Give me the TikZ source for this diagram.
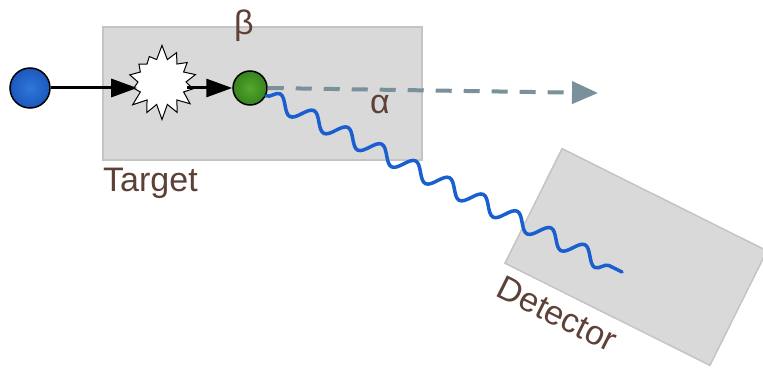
\documentclass[tikz,border=0pt]{standalone}
\usepackage{fontspec}
\setmainfont{Liberation Sans}
\usetikzlibrary{shapes.symbols,arrows.meta,decorations.pathmorphing}

\definecolor{boxfill}{HTML}{D9D9D9}
\definecolor{boxline}{HTML}{C4C4C4}
\definecolor{labelbrown}{HTML}{5D4037}
\definecolor{dashgray}{HTML}{7A919C}
\definecolor{wave}{HTML}{1A5FD0}
\definecolor{blueinner}{HTML}{2F77DA}
\definecolor{blueouter}{HTML}{1C58BC}
\definecolor{greeninner}{HTML}{52A82E}
\definecolor{greenouter}{HTML}{37821D}

\tikzset{
  panel/.style={draw=boxline, fill=boxfill, line width=1.5pt, inner sep=0pt},
  caption/.style={text=labelbrown, font=\fontsize{34}{40}\selectfont, inner sep=0pt},
  particle/.style={circle, draw=black, line width=1.5pt, inner sep=0pt},
  beam/.style={line width=3pt, -{Triangle[length=26pt,width=18pt]}},
}

\begin{document}
\begin{tikzpicture}[x=1pt,y=-1pt]
  \useasboundingbox (0,0) rectangle (763,374);

  % target block and detector block
  \node[panel, minimum width=319pt, minimum height=133pt] (target) at (262.5,93.5) {};
  \node[panel, rotate=-26.5, minimum width=229pt, minimum height=128pt] (det) at (636,257) {};

  % particles
  \node[particle, minimum size=40pt, inner color=blueinner, outer color=blueouter] (inc) at (30,88) {};
  \node[starburst, draw=black, fill=white, line width=1pt, starburst points=14,
        starburst point height=15pt, minimum width=78pt, minimum height=76pt,
        random starburst=7, inner sep=0pt] (hit) at (162,82) {};
  \node[particle, minimum size=34pt, inner color=greeninner, outer color=greenouter] (out) at (250,88) {};

  \coordinate (fwd) at (598,93);
  \coordinate (absorb) at (622,272);

  % beam
  \draw[beam] (inc) -- (hit.west |- inc);
  \draw[beam] (hit.east |- out) -- (out);

  % forward direction
  \draw[dashgray, line width=4pt, dash pattern=on 16pt off 12pt,
        -{Triangle[length=26pt,width=22pt]}] (out.east) -- (fwd);

  % emitted photon
  \draw[wave, line width=3.5pt, line cap=round, decorate,
        decoration={snake, segment length=37.8pt, amplitude=8pt}] (out.-26) -- (absorb);

  % labels
  \node[caption] (beta) at (244,25.5) {β};
  \node[caption] (alpha) at (380,105) {α};
  \node[caption, anchor=base west] (tlabel) at (103,192) {Target};
  \node[caption, rotate=-26.5] (dlabel) at (557,314) {Detector};
\end{tikzpicture}
\end{document}
